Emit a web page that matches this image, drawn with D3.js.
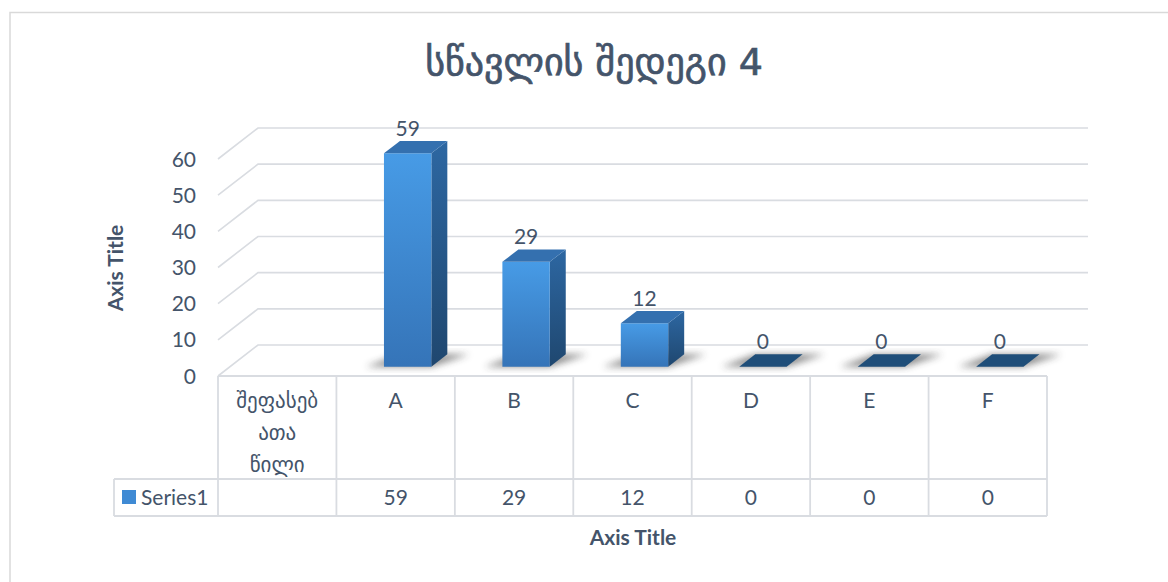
<!DOCTYPE html>
<html><head><meta charset="utf-8">
<script src="https://cdn.jsdelivr.net/npm/d3@7"></script>
<style>html,body{margin:0;padding:0;background:#fff;}svg{display:block;}</style>
</head><body>
<script>
const categories = ["A", "B", "C", "D", "E", "F"];
const values = [59, 29, 12, 0, 0, 0];
const yTicks = [0, 10, 20, 30, 40, 50, 60];
const headerLines = ["შეფასებ", "ათა", "წილი"];
const seriesName = "Series1";
const chartTitle = "სწავლის შედეგი 4";
const axisTitle = "Axis Title";

const W = 1168, H = 582;
const TXT = "#44546A", GRID = "#D9DCE1";
const FONT = "Lato, 'Open Sans', sans-serif";
const GEO = "'DejaVu Sans', sans-serif";
const FS = 21;
const DX = 40, DY = -31;   // full depth offset
const D0 = 0.3, D1 = 0.7;  // bar depth span

const svg = d3.select("body").append("svg").attr("width", W).attr("height", H);
const defs = svg.append("defs");

const fg = defs.append("linearGradient").attr("id", "gFront").attr("x1", 0).attr("y1", 0).attr("x2", 0).attr("y2", 1);
fg.append("stop").attr("offset", 0).attr("stop-color", "#479BE6");
fg.append("stop").attr("offset", 1).attr("stop-color", "#3574B8");
const sg = defs.append("linearGradient").attr("id", "gSide").attr("x1", 0).attr("y1", 0).attr("x2", 0).attr("y2", 1);
sg.append("stop").attr("offset", 0).attr("stop-color", "#2D67A2");
sg.append("stop").attr("offset", 1).attr("stop-color", "#1F476F");
defs.append("filter").attr("id", "blur").attr("x", "-50%").attr("y", "-50%").attr("width", "200%").attr("height", "200%")
  .append("feGaussianBlur").attr("stdDeviation", 3.5);
defs.append("clipPath").attr("id", "hdrClip").append("rect")
  .attr("x", 218).attr("y", 376).attr("width", 119).attr("height", 102);

// chart frame
svg.append("path").attr("d", `M10,${H}V12.5H${W}`).attr("fill", "none").attr("stroke", "#D9D9D9").attr("stroke-width", 1.5);

const x = d3.scaleBand().domain(["__hdr", ...categories]).range([218, 1047]).padding(0);
const y = d3.scaleLinear().domain([0, 60]).range([376, 159]);
const P = (px, v, d) => [px + DX * d, y(v) + DY * d];

// title
svg.append("text").attr("x", 594).attr("y", 75).attr("text-anchor", "middle")
  .attr("font-family", GEO).attr("font-size", 38).attr("fill", TXT)
  .attr("stroke", TXT).attr("stroke-width", 0.7).text(chartTitle);

// gridlines
const g = svg.append("g");
yTicks.forEach(t => {
  const a = P(218, t, 0), b = P(218, t, 1), c = P(1048, t, 1);
  g.append("path").attr("d", `M${a}L${b}L${c}`).attr("fill", "none").attr("stroke", GRID).attr("stroke-width", 1.6);
  svg.append("text").attr("x", 196).attr("y", y(t)).attr("dy", "0.36em").attr("text-anchor", "end")
    .attr("font-family", FONT).attr("font-size", FS).attr("fill", TXT).text(t);
});

// y axis title
svg.append("text").attr("transform", "translate(123,268) rotate(-90)").attr("text-anchor", "middle")
  .attr("font-family", FONT).attr("font-size", 21).attr("font-weight", "bold").attr("fill", TXT).text(axisTitle);

// bars
const bw = x.bandwidth() * 0.4;
const bars = svg.append("g");
categories.forEach((c, i) => {
  const v = values[i];
  const xl = x(c) + (x.bandwidth() - bw) / 2, xr = xl + bw;
  const s1 = P(xl - 18, 0, D0), s2 = P(xr, 0, D0), s3 = P(xr + 22, 0, D1), s4 = P(xl, 0, D1);
  bars.append("path").attr("d", `M${s1}L${s2}L${s3}L${s4}Z`).attr("fill", "#333").attr("opacity", 0.55).attr("filter", "url(#blur)");
  const fbl = P(xl, 0, D0), ftl = P(xl, v, D0), ftr = P(xr, v, D0), fbr = P(xr, 0, D0);
  const btl = P(xl, v, D1), btr = P(xr, v, D1), bbr = P(xr, 0, D1);
  if (v > 0) {
    bars.append("path").attr("d", `M${fbr}L${ftr}L${btr}L${bbr}Z`).attr("fill", "url(#gSide)");
    bars.append("path").attr("d", `M${fbl}L${ftl}L${ftr}L${fbr}Z`).attr("fill", "url(#gFront)");
  }
  bars.append("path").attr("d", `M${ftl}L${ftr}L${btr}L${btl}Z`).attr("fill", v > 0 ? "#3470AF" : "#1F4E79");
  const lx = (xl + xr) / 2 + DX * D0;
  svg.append("text").attr("x", lx).attr("y", y(v) + DY * D1 - 5).attr("text-anchor", "middle")
    .attr("font-family", FONT).attr("font-size", FS).attr("fill", TXT).text(v);
});

// data table
const tb = svg.append("g").attr("stroke", GRID).attr("stroke-width", 1.8).attr("fill", "none");
tb.append("path").attr("d", `M218,376H1047`);
tb.append("path").attr("d", `M114,479H1047M114,516H1047M114,479V516`);
x.domain().forEach(k => tb.append("path").attr("d", `M${x(k)},376V516`));
tb.append("path").attr("d", `M1047,376V516`);

const hdr = svg.append("g").attr("clip-path", "url(#hdrClip)");
headerLines.forEach((l, i) => {
  hdr.append("text").attr("x", x("__hdr") + x.bandwidth() / 2).attr("y", 401 + i * 32).attr("dy", "0.35em")
    .attr("text-anchor", "middle").attr("font-family", GEO).attr("font-size", 21).attr("fill", TXT).text(l);
});
categories.forEach((c, i) => {
  const cx = x(c) + x.bandwidth() / 2;
  svg.append("text").attr("x", cx).attr("y", 400).attr("dy", "0.36em").attr("text-anchor", "middle")
    .attr("font-family", FONT).attr("font-size", FS).attr("fill", TXT).text(c);
  svg.append("text").attr("x", cx).attr("y", 497.5).attr("dy", "0.36em").attr("text-anchor", "middle")
    .attr("font-family", FONT).attr("font-size", FS).attr("fill", TXT).text(values[i]);
});
svg.append("rect").attr("x", 122).attr("y", 490).attr("width", 14).attr("height", 14).attr("fill", "#3F8AD4");
svg.append("text").attr("x", 141).attr("y", 497.5).attr("dy", "0.36em")
  .attr("font-family", FONT).attr("font-size", FS).attr("fill", TXT).text(seriesName);

svg.append("text").attr("x", 633).attr("y", 537).attr("dy", "0.36em").attr("text-anchor", "middle")
  .attr("font-family", FONT).attr("font-size", 21).attr("font-weight", "bold").attr("fill", TXT).text(axisTitle);
</script>
</body></html>
